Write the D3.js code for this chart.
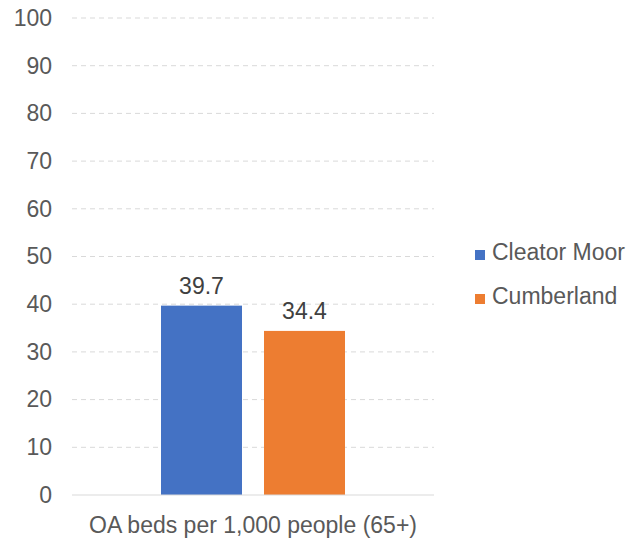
<!DOCTYPE html>
<html>
<head>
<meta charset="utf-8">
<script src="https://cdn.jsdelivr.net/npm/d3@7"></script>
<style>
  body { margin: 0; background: #fff; }
  text { font-family: "Liberation Sans", Arial, sans-serif; fill: #595959; }
</style>
</head>
<body>
<div id="chart"></div>
<script>
var categories = ["OA beds per 1,000 people (65+)"];
var seriesNames = ["Cleator Moor", "Cumberland"];
var seriesValues = [[39.7], [34.4]];
var seriesColors = ["#4472c4", "#ed7d31"];
var yTicks = [0, 10, 20, 30, 40, 50, 60, 70, 80, 90, 100];

var width = 640, height = 538;
var plot = {left: 72, right: 434, top: 18, bottom: 495};
var fontSize = "23px";

var svg = d3.select("#chart").append("svg")
    .attr("width", width)
    .attr("height", height);

var y = d3.scaleLinear().domain([0, 100]).range([plot.bottom, plot.top]);

var x0 = d3.scaleBand()
    .domain(categories)
    .range([plot.left, plot.right])
    .paddingInner(0)
    .paddingOuter(0.4837);

var x1 = d3.scaleBand()
    .domain(seriesNames)
    .range([0, x0.bandwidth()])
    .paddingInner(0.2136)
    .paddingOuter(0);

//gridlines
svg.append("g").selectAll("line")
    .data(yTicks.filter(function (d) { return d > 0; }))
    .enter().append("line")
    .attr("x1", plot.left)
    .attr("x2", plot.right)
    .attr("y1", function (d) { return y(d); })
    .attr("y2", function (d) { return y(d); })
    .attr("stroke", "#d9d9d9")
    .attr("stroke-width", 1)
    .attr("stroke-dasharray", "5,4");

//y axis labels
var yAxis = svg.append("g")
    .attr("transform", "translate(" + (plot.left - 20) + ",0)")
    .call(d3.axisLeft(y).tickValues(yTicks).tickSize(0).tickPadding(0));
yAxis.select(".domain").remove();
yAxis.selectAll("text")
    .attr("font-size", fontSize)
    .attr("fill", "#595959")
    .style("font-family", "'Liberation Sans', Arial, sans-serif");

//bars
var group = svg.append("g").selectAll("g")
    .data(categories)
    .enter().append("g")
    .attr("transform", function (d) { return "translate(" + x0(d) + ",0)"; });

group.selectAll("rect")
    .data(function (d, ci) {
        return seriesNames.map(function (s, si) {
            return {name: s, value: seriesValues[si][ci], color: seriesColors[si]};
        });
    })
    .enter().append("rect")
    .attr("x", function (d) { return x1(d.name); })
    .attr("width", x1.bandwidth())
    .attr("y", function (d) { return y(d.value); })
    .attr("height", function (d) { return y(0) - y(d.value); })
    .attr("fill", function (d) { return d.color; });

group.selectAll(".val")
    .data(function (d, ci) {
        return seriesNames.map(function (s, si) {
            return {name: s, value: seriesValues[si][ci]};
        });
    })
    .enter().append("text")
    .attr("class", "val")
    .attr("x", function (d) { return x1(d.name) + x1.bandwidth() / 2; })
    .attr("y", function (d) { return y(d.value) - 12; })
    .attr("text-anchor", "middle")
    .attr("font-size", fontSize)
    .style("fill", "#404040")
    .text(function (d) { return d.value.toFixed(1); });

//x axis line
svg.append("line")
    .attr("x1", plot.left)
    .attr("x2", plot.right)
    .attr("y1", y(0))
    .attr("y2", y(0))
    .attr("stroke", "#d9d9d9")
    .attr("stroke-width", 1);

//category label
svg.append("g").selectAll("text")
    .data(categories)
    .enter().append("text")
    .attr("x", function (d) { return x0(d) + x0.bandwidth() / 2; })
    .attr("y", plot.bottom + 38)
    .attr("text-anchor", "middle")
    .attr("font-size", fontSize)
    .text(function (d) { return d; });

//legend
var legend = svg.append("g").selectAll("g")
    .data(seriesNames)
    .enter().append("g")
    .attr("transform", function (d, i) { return "translate(475," + (260 + i * 44) + ")"; });

legend.append("rect")
    .attr("x", 0)
    .attr("y", -10)
    .attr("width", 10)
    .attr("height", 10)
    .attr("fill", function (d, i) { return seriesColors[i]; });

legend.append("text")
    .attr("x", 17)
    .attr("y", 0)
    .attr("font-size", fontSize)
    .text(function (d) { return d; });
</script>
</body>
</html>
